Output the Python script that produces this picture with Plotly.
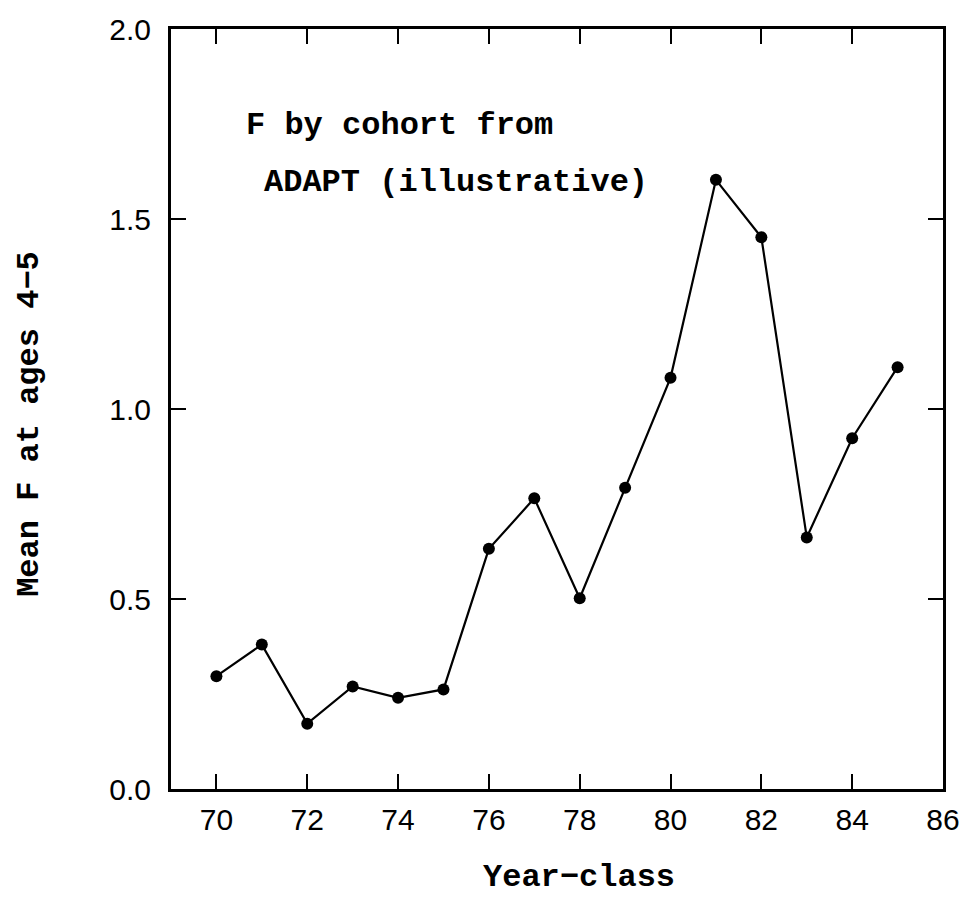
import plotly.graph_objects as go

year_class = [70, 71, 72, 73, 74, 75, 76, 77, 78, 79, 80, 81, 82, 83, 84, 85]
mean_f = [0.297, 0.380, 0.172, 0.270, 0.240, 0.262, 0.632, 0.765, 0.502, 0.793,
          1.082, 1.603, 1.452, 0.662, 0.923, 1.110]

x_ticks = [70, 72, 74, 76, 78, 80, 82, 84, 86]
y_ticks = [0.0, 0.5, 1.0, 1.5, 2.0]
y_tick_text = ["0.0", "0.5", "1.0", "1.5", "2.0"]

mono = "Liberation Mono"
sans = "Liberation Sans"
tfs = 32

fig = go.Figure()
fig.add_trace(go.Scatter(
    x=year_class, y=mean_f, mode="lines+markers",
    line=dict(color="black", width=2.2),
    marker=dict(color="black", size=12),
    showlegend=False, cliponaxis=False,
))

axis_common = dict(
    showline=True, linecolor="black", linewidth=3, mirror="ticks",
    ticks="inside", ticklen=15, tickwidth=2, tickcolor="black",
    showgrid=False, zeroline=False,
    tickfont=dict(family=sans, size=30, color="black"),
)

fig.update_xaxes(range=[69, 86], tickvals=x_ticks, ticklabelstandoff=2, **axis_common)
fig.update_yaxes(range=[0, 2], tickvals=y_ticks, ticktext=y_tick_text, ticklabelstandoff=11, **axis_common)

fig.add_annotation(text="<b>F by cohort from</b>", xref="paper", yref="paper",
                   x=(244 - 171) / 777, y=1 - (124 - 27) / 762, xanchor="left", yanchor="middle",
                   showarrow=False, font=dict(family=mono, size=tfs, color="black"))
fig.add_annotation(text="<b>ADAPT (illustrative)</b>", xref="paper", yref="paper",
                   x=(263 - 171) / 777, y=1 - (181 - 27) / 762, xanchor="left", yanchor="middle",
                   showarrow=False, font=dict(family=mono, size=tfs, color="black"))
fig.add_annotation(text="<b>Year\u2212class</b>", xref="paper", yref="paper",
                   x=(582 - 171) / 777, y=-(878 - 789) / 762, xanchor="center", yanchor="middle",
                   showarrow=False, font=dict(family=mono, size=tfs, color="black"))
fig.add_annotation(text="<b>Mean F at ages 4\u22125</b>", xref="paper", yref="paper",
                   x=-(171 - 29) / 777, y=1 - (423 - 27) / 762, xanchor="center", yanchor="middle",
                   textangle=-90, showarrow=False, font=dict(family=mono, size=tfs, color="black"))

fig.update_layout(
    width=972, height=903,
    margin=dict(l=171, r=24, t=27, b=114),
    paper_bgcolor="white", plot_bgcolor="white",
)

fig.write_html("out.html")
